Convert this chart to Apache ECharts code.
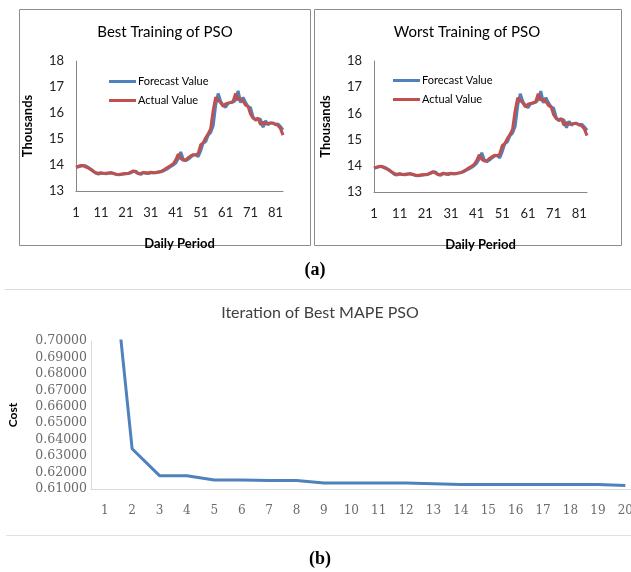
<!DOCTYPE html>
<html>
<head>
<meta charset="utf-8">
<style>
html, body { margin: 0; padding: 0; background: #fff; }
#chart { width: 631px; height: 572px; }
</style>
<script src="https://cdn.jsdelivr.net/npm/echarts@6/dist/echarts.min.js"></script>
</head>
<body>
<div id="chart"></div>
<script>
// daily periods 1..84
var days = [];
for (var d = 1; d <= 84; d++) days.push(String(d));

// actual load (thousands)
var actualValues = [
  13.92, 13.95, 13.98, 13.97, 13.92, 13.88, 13.82, 13.75, 13.70, 13.68,
  13.70, 13.67, 13.68, 13.69, 13.70, 13.67, 13.65, 13.63, 13.65, 13.66,
  13.67, 13.68, 13.73, 13.78, 13.72, 13.66, 13.68, 13.72, 13.68, 13.70,
  13.72, 13.70, 13.71, 13.73, 13.75, 13.80, 13.86, 13.92, 13.98, 14.05,
  14.20, 14.42, 14.25, 14.18, 14.20, 14.28, 14.35, 14.40, 14.38, 14.45,
  14.78, 14.85, 15.05, 15.20, 15.40, 16.10, 16.60, 16.50, 16.40, 16.25,
  16.35, 16.38, 16.40, 16.45, 16.75, 16.50, 16.55, 16.45, 16.30, 16.25,
  15.95, 15.80, 15.75, 15.80, 15.55, 15.65, 15.58, 15.60, 15.62, 15.60,
  15.58, 15.52, 15.40, 15.15
];

var bestForecast = [
  13.90, 13.93, 13.96, 13.98, 13.96, 13.90, 13.84, 13.76, 13.68, 13.65,
  13.68, 13.68, 13.66, 13.68, 13.70, 13.68, 13.64, 13.62, 13.63, 13.65,
  13.66, 13.67, 13.70, 13.75, 13.76, 13.68, 13.64, 13.70, 13.70, 13.67,
  13.70, 13.71, 13.70, 13.72, 13.74, 13.77, 13.82, 13.88, 13.94, 14.00,
  14.08, 14.25, 14.50, 14.22, 14.16, 14.22, 14.30, 14.38, 14.40, 14.32,
  14.55, 14.85, 14.90, 15.15, 15.25, 15.50, 16.30, 16.75, 16.45, 16.30,
  16.22, 16.38, 16.40, 16.42, 16.50, 16.85, 16.40, 16.60, 16.40, 16.25,
  16.20, 15.85, 15.72, 15.78, 15.75, 15.45, 15.70, 15.55, 15.62, 15.62,
  15.55, 15.58, 15.48, 15.35
];

var worstForecast = [
  13.90, 13.93, 13.96, 13.98, 13.95, 13.90, 13.84, 13.76, 13.67, 13.65,
  13.69, 13.67, 13.66, 13.68, 13.70, 13.68, 13.63, 13.62, 13.63, 13.65,
  13.66, 13.67, 13.71, 13.75, 13.76, 13.67, 13.64, 13.70, 13.70, 13.67,
  13.70, 13.71, 13.70, 13.72, 13.74, 13.78, 13.83, 13.88, 13.94, 14.00,
  14.10, 14.26, 14.50, 14.22, 14.16, 14.22, 14.30, 14.37, 14.40, 14.30,
  14.55, 14.85, 14.92, 15.15, 15.25, 15.50, 16.30, 16.75, 16.45, 16.30,
  16.22, 16.36, 16.40, 16.42, 16.52, 16.85, 16.40, 16.60, 16.40, 16.25,
  16.20, 15.85, 15.72, 15.78, 15.75, 15.45, 15.70, 15.55, 15.62, 15.62,
  15.55, 15.58, 15.48, 15.35
];

// PSO iterations
var iterations = ['1','2','3','4','5','6','7','8','9','10','11','12','13','14','15','16','17','18','19','20'];
var costValues = [
  0.7970, 0.6345, 0.6181, 0.6180, 0.6155, 0.6155, 0.6151, 0.6151, 0.6136, 0.6136,
  0.6136, 0.6136, 0.6132, 0.6128, 0.6128, 0.6128, 0.6128, 0.6128, 0.6128, 0.6121
];

var FONT = 'Lato, "Open Sans", sans-serif';
var NUMFONT = '"DejaVu Serif", serif';
var BLUE = '#4F81BD';
var RED = '#C0504D';

var myChart = echarts.init(document.getElementById('chart'));

function topX (gi) {
  return {
    type: 'category',
    gridIndex: gi,
    data: days,
    boundaryGap: false,
    name: 'Daily Period',
    nameLocation: 'middle',
    nameGap: 46,
    nameTextStyle: { fontFamily: FONT, fontWeight: 'bold', fontSize: 13, color: '#000' },
    axisLine: { lineStyle: { color: '#868686', width: 1 } },
    axisTick: { show: false },
    axisLabel: { interval: 9, margin: 15, fontFamily: FONT, fontSize: 13, color: '#222' },
    splitLine: { show: false }
  }
}

function topY (gi) {
  return {
    type: 'value',
    gridIndex: gi,
    min: 13,
    max: 18,
    interval: 1,
    name: 'Thousands',
    nameLocation: 'middle',
    nameGap: 42,
    nameTextStyle: { fontFamily: FONT, fontWeight: 'bold', fontSize: 13, color: '#000' },
    axisLine: { show: true, lineStyle: { color: '#868686', width: 1 } },
    axisTick: { show: false },
    axisLabel: { margin: 12, fontFamily: FONT, fontSize: 13, color: '#222' },
    splitLine: { show: false }
  }
}

function lineSeries (name, data, color, idx) {
  return {
    name: name,
    type: 'line',
    xAxisIndex: idx,
    yAxisIndex: idx,
    data: data,
    symbol: 'none',
    lineStyle: { color: color, width: 3 },
    itemStyle: { color: color }
  }
}

function legendAt (left, top) {
  return {
    orient: 'vertical',
    left: left,
    top: top,
    icon: 'rect',
    itemWidth: 27,
    itemHeight: 3,
    itemGap: 8,
    data: ['Forecast Value', 'Actual Value'],
    textStyle: { fontFamily: FONT, fontSize: 11, color: '#000', padding: [0, 0, 0, -3] }
  }
}

myChart.setOption({
  animation: false,
  legend: [legendAt(104, 71), legendAt(388, 70)],
  grid: [
    { left: 76, top: 61, width: 207, height: 130, outerBoundsMode: 'none' },
    { left: 374, top: 61, width: 213, height: 131, outerBoundsMode: 'none' },
    { left: 91, top: 341, width: 548, height: 148, outerBoundsMode: 'none' }
  ],
  xAxis: [
    topX(0),
    topX(1),
    {
      type: 'category',
      gridIndex: 2,
      data: iterations,
      boundaryGap: true,
      axisLine: { lineStyle: { color: '#D9D9D9', width: 1 } },
      axisTick: { show: false },
      axisLabel: { margin: 16, fontFamily: NUMFONT, fontSize: 12, color: '#6B6B6B' }
    }
  ],
  yAxis: [
    topY(0),
    topY(1),
    {
      type: 'value',
      gridIndex: 2,
      min: 0.61,
      max: 0.70,
      interval: 0.01,
      name: 'Cost',
      nameLocation: 'middle',
      nameGap: 72,
      nameTextStyle: { fontFamily: FONT, fontWeight: 'bold', fontSize: 12, color: '#000' },
      axisLine: { show: true, lineStyle: { color: '#D9D9D9', width: 1 } },
      axisTick: { show: false },
      splitLine: { show: false },
      axisLabel: {
        margin: 4,
        fontFamily: NUMFONT,
        fontSize: 12.5,
        color: '#6B6B6B',
        formatter: function (v) { return v.toFixed(5) }
      }
    }
  ],
  series: [
    lineSeries('Forecast Value', bestForecast, BLUE, 0),
    lineSeries('Actual Value', actualValues, RED, 0),
    lineSeries('Forecast Value', worstForecast, BLUE, 1),
    lineSeries('Actual Value', actualValues, RED, 1),
    {
      name: 'Cost',
      type: 'line',
      xAxisIndex: 2,
      yAxisIndex: 2,
      data: costValues,
      symbol: 'none',
      clip: true,
      lineStyle: { color: BLUE, width: 3 },
      itemStyle: { color: BLUE }
    }
  ],
  graphic: [
    // panel frames
    { type: 'rect', shape: { x: 19.5, y: 9.5, width: 291, height: 236 }, style: { fill: 'none', stroke: '#8C8C8C', lineWidth: 1 }, z: -1 },
    { type: 'rect', shape: { x: 314.5, y: 9.5, width: 307, height: 236 }, style: { fill: 'none', stroke: '#8C8C8C', lineWidth: 1 }, z: -1 },
    // separators
    { type: 'line', shape: { x1: 5, y1: 289.5, x2: 631, y2: 289.5 }, style: { stroke: '#D9D9D9', lineWidth: 1 } },
    { type: 'line', shape: { x1: 6, y1: 535.5, x2: 631, y2: 535.5 }, style: { stroke: '#E0E0E0', lineWidth: 1 } },
    // titles
    { type: 'text', x: 165, y: 32, style: { text: 'Best Training of PSO', fill: '#000', font: '15px ' + FONT, textAlign: 'center', textVerticalAlign: 'middle' } },
    { type: 'text', x: 467, y: 32, style: { text: 'Worst Training of PSO', fill: '#000', font: '15px ' + FONT, textAlign: 'center', textVerticalAlign: 'middle' } },
    { type: 'text', x: 320, y: 313, style: { text: 'Iteration of Best MAPE PSO', fill: '#404040', font: '16px ' + FONT, textAlign: 'center', textVerticalAlign: 'middle' } },
    // sub-figure labels
    { type: 'text', x: 315, y: 270, style: { text: '(a)', fill: '#000', font: 'bold 18px "Liberation Serif", serif', textAlign: 'center', textVerticalAlign: 'middle' } },
    { type: 'text', x: 320, y: 559, style: { text: '(b)', fill: '#000', font: 'bold 18px "Liberation Serif", serif', textAlign: 'center', textVerticalAlign: 'middle' } }
  ]
});
</script>
</body>
</html>
